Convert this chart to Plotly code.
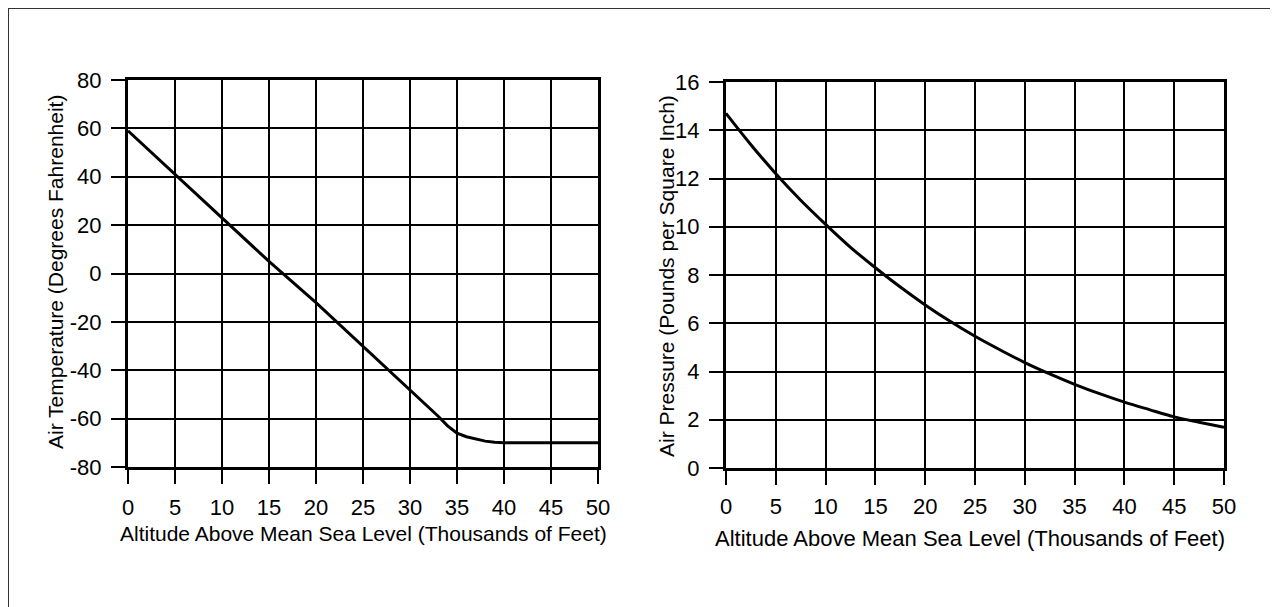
import plotly.graph_objects as go

# Data
alt_temp = [0, 5, 10, 15, 20, 25, 30, 33, 34, 35, 36, 37, 38, 39, 40, 45, 50]
temp_f = [59, 41, 23, 5, -12, -30, -48, -59, -63, -66, -67.5, -68.5, -69.3, -69.8, -70, -70, -70]

alt_pres = [0, 2.5, 5, 7.5, 10, 12.5, 15, 17.5, 20, 22.5, 25, 27.5, 30, 32.5, 35, 37.5, 40, 42.5, 45, 47.5, 50]
pres_psi = [14.7, 13.4, 12.2, 11.1, 10.1, 9.15, 8.3, 7.5, 6.76, 6.08, 5.46, 4.9, 4.37, 3.9, 3.47, 3.08, 2.73, 2.42, 2.12, 1.9, 1.69]

x_ticks = [0, 5, 10, 15, 20, 25, 30, 35, 40, 45, 50]
temp_ticks = [-80, -60, -40, -20, 0, 20, 40, 60, 80]
temp_labels = ["-80", "-60", "-40", "-20", "0", "20", "40", "60", "80"]
pres_ticks = [0, 2, 4, 6, 8, 10, 12, 14, 16]

x_title = "Altitude Above Mean Sea Level (Thousands of Feet)"
temp_title = "Air Temperature (Degrees Fahrenheit)"
pres_title = "Air Pressure (Pounds per Square Inch)"

W, H = 1278, 607
FONT = "Liberation Sans, Arial, Helvetica, sans-serif"

fig = go.Figure()
fig.add_trace(go.Scatter(x=alt_temp, y=temp_f, mode="lines", line=dict(color="black", width=3),
                         xaxis="x", yaxis="y", showlegend=False, hoverinfo="skip"))
fig.add_trace(go.Scatter(x=alt_pres, y=pres_psi, mode="lines", line=dict(color="black", width=3, shape="spline"),
                         xaxis="x2", yaxis="y2", showlegend=False, hoverinfo="skip"))

def px_x(p):
    return p / W

def px_y(p):
    return 1 - p / H

axis_common = dict(showline=True, linecolor="black", linewidth=3, mirror=True,
                   showgrid=True, gridcolor="black", gridwidth=1.5,
                   ticks="outside", ticklen=14, tickwidth=1.5, tickcolor="black",
                   zeroline=False, fixedrange=True, automargin=False,
                   tickfont=dict(family=FONT, size=22, color="black"))

fig.update_layout(
    width=W, height=H,
    margin=dict(l=0, r=0, t=0, b=0, pad=0),
    paper_bgcolor="white", plot_bgcolor="white",
    font=dict(family=FONT, color="black"),
    xaxis=dict(domain=[px_x(120), px_x(590)], range=[0, 50], tickvals=x_ticks, anchor="y",
               ticklabelstandoff=5, **axis_common),
    yaxis=dict(domain=[px_y(459), px_y(72)], range=[-80, 80], tickvals=temp_ticks,
               ticktext=temp_labels, anchor="x", ticklabelstandoff=5, **axis_common),
    xaxis2=dict(domain=[px_x(718), px_x(1216)], range=[0, 50], tickvals=x_ticks, anchor="y2",
                ticklabelstandoff=3, **axis_common),
    yaxis2=dict(domain=[px_y(460), px_y(74)], range=[0, 16], tickvals=pres_ticks, anchor="x2",
                ticklabelstandoff=5, **axis_common),
    annotations=[
        dict(text=x_title, xref="paper", yref="paper", x=px_x(355), y=px_y(525),
             xanchor="center", yanchor="middle", showarrow=False, font=dict(family=FONT, size=21)),
        dict(text=x_title, xref="paper", yref="paper", x=px_x(962), y=px_y(530),
             xanchor="center", yanchor="middle", showarrow=False, font=dict(family=FONT, size=22)),
        dict(text=temp_title, xref="paper", yref="paper", x=px_x(47), y=px_y(264),
             xanchor="center", yanchor="middle", textangle=-90, showarrow=False,
             font=dict(family=FONT, size=21)),
        dict(text=pres_title, xref="paper", yref="paper", x=px_x(658), y=px_y(268),
             xanchor="center", yanchor="middle", textangle=-90, showarrow=False,
             font=dict(family=FONT, size=21)),
    ],
    shapes=[
        dict(type="line", xref="paper", yref="paper", x0=0, x1=px_x(1268), y0=1, y1=1,
             line=dict(color="#333333", width=2)),
        dict(type="line", xref="paper", yref="paper", x0=0, x1=0, y0=1, y1=0,
             line=dict(color="#333333", width=2)),
        dict(type="line", xref="paper", yref="paper", x0=px_x(1268), x1=px_x(1268), y0=1, y1=0,
             line=dict(color="#333333", width=2)),
    ],
)

fig.write_html("out.html")
